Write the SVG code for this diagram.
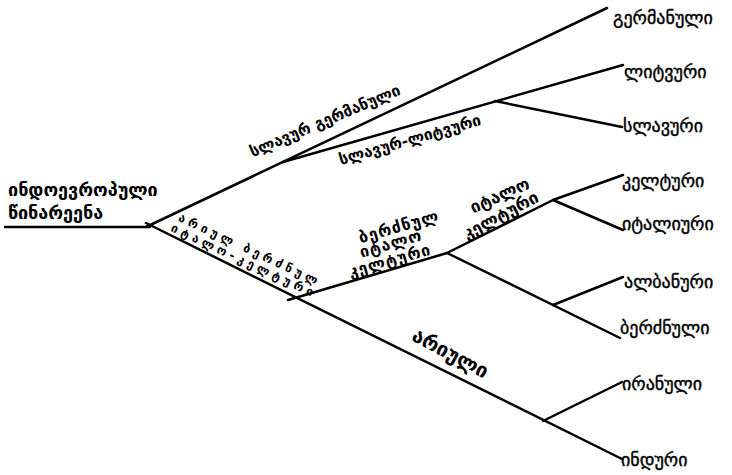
<svg xmlns="http://www.w3.org/2000/svg" width="732" height="475" viewBox="0 0 732 475">
<style>
.ln{stroke:#000;stroke-width:2.5;fill:none;stroke-linecap:round;stroke-linejoin:round}
.leaf{font-family:"DejaVu Sans",sans-serif;font-size:18px;fill:#000;stroke:#000;stroke-width:0.4}
.root{font-family:"DejaVu Sans",sans-serif;font-size:18px;font-weight:bold;fill:#000}
.br{font-family:"DejaVu Sans",sans-serif;font-size:15.5px;font-weight:bold;fill:#000;text-anchor:middle}
</style>
<rect width="732" height="475" fill="#fff"/>
<g id="connectors">
<path class="ln" d="M5,227 H150"/>
<path class="ln" d="M146,227 L607,8"/>
<path class="ln" d="M283,162 L623,65"/>
<path class="ln" d="M495,101 L622,127"/>
<path class="ln" d="M146,223 L622,459"/>
<path class="ln" d="M288,300 L447,253 L553,200 L623,175"/>
<path class="ln" d="M553,200 L623,230"/>
<path class="ln" d="M447,253 L620,338"/>
<path class="ln" d="M553,305 L623,277"/>
<path class="ln" d="M543,421 L622,382"/>
</g>
<g id="root"><text class="root" x="8" y="196">ინდოევროპული</text><text class="root" x="8" y="219">წინარეენა</text></g>
<g id="germanic"><text class="leaf" x="613" y="24">გერმანული</text></g>
<g id="lithuanian"><text class="leaf" x="624" y="78">ლიტვური</text></g>
<g id="slavic"><text class="leaf" x="623" y="132">სლავური</text></g>
<g id="celtic"><text class="leaf" x="622" y="187">კელტური</text></g>
<g id="italic"><text class="leaf" x="622" y="230">იტალიური</text></g>
<g id="albanian"><text class="leaf" x="624" y="288">ალბანური</text></g>
<g id="greek"><text class="leaf" x="620" y="334">ბერძნული</text></g>
<g id="iranian"><text class="leaf" x="622" y="390">ირანული</text></g>
<g id="indian"><text class="leaf" x="621" y="466">ინდური</text></g>
<g id="slavic-germanic"><text class="br" transform="translate(325,121) rotate(-23)" y="5">სლავურ გერმანული</text></g>
<g id="slavic-lithuanian"><text class="br" transform="translate(410,140) rotate(-16)" y="5">სლავურ-ლიტვური</text></g>
<g id="southern"><text class="br" transform="translate(250,250) rotate(25)" y="4" style="letter-spacing:4px;font-size:12px">არიულ ბერძნულ</text><text class="br" transform="translate(244,261) rotate(25)" y="4" style="letter-spacing:4px;font-size:12px">იტალო-კელტური</text></g>
<g id="greek-italo-celtic"><text class="br" transform="translate(399,227) rotate(-16)" y="5" style="font-size:16px;letter-spacing:1px">ბერძნულ</text><text class="br" transform="translate(391,244) rotate(-16)" y="5" style="font-size:16px;letter-spacing:1px">იტალო</text><text class="br" transform="translate(390,261) rotate(-16)" y="5" style="font-size:16px;letter-spacing:1px">კელტური</text></g>
<g id="italo-celtic"><text class="br" transform="translate(500,196) rotate(-24)" y="5" style="font-size:17px">იტალო</text><text class="br" transform="translate(501,216) rotate(-28)" y="5" style="font-size:17px">კელტური</text></g>
<g id="aryan"><text class="br" transform="translate(450,354) rotate(28)" y="6" style="font-size:20px">არიული</text></g>
</svg>
